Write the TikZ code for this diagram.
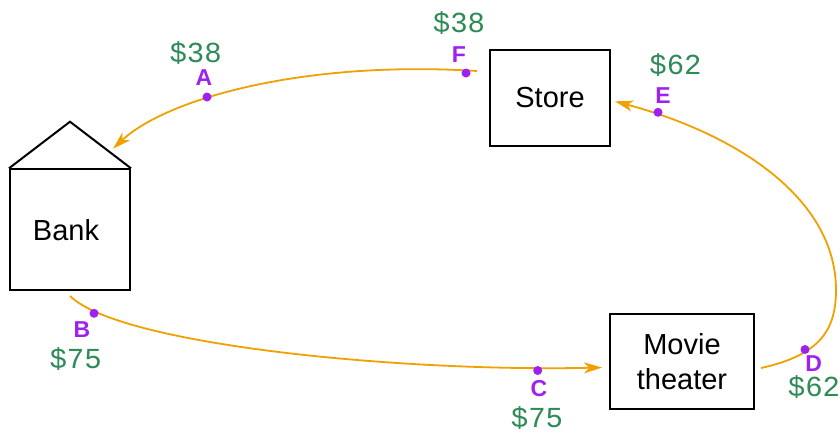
\documentclass[tikz,border=0pt]{standalone}
\usepackage{fontspec}
\setmainfont{Liberation Sans}
\newfontfamily\monofont{Liberation Mono}
\usetikzlibrary{arrows.meta,calc}
\definecolor{flowc}{RGB}{240,160,0}
\definecolor{dotc}{RGB}{160,32,240}
\definecolor{moneyc}{RGB}{46,139,87}
\begin{document}
\begin{tikzpicture}[x=1pt,y=-1pt,
  box/.style={draw,line width=2pt,inner sep=0pt,font=\fontsize{29}{35}\selectfont,align=center},
  flow/.style={draw=flowc,line width=1.8pt,-{Stealth[length=18pt,width=11pt,inset=5pt]}},
  dot/.style={circle,fill=dotc,inner sep=0pt,minimum size=9pt},
  tag/.style={text=dotc,font=\fontsize{23}{24}\selectfont\bfseries,inner sep=0pt,anchor=base},
  money/.style={text=moneyc,font=\monofont\fontsize{29}{30}\selectfont,inner sep=0pt,anchor=base}]
\useasboundingbox (0,0) rectangle (840,432);
% boxes
\node[box,minimum width=120pt,minimum height=120.7pt] (bank) at (70,229.65) {Bank\hspace*{8pt}};
\coordinate (roof) at (70,121.7);
\draw[line width=2pt,line join=miter] (bank.north west) -- (roof) -- (bank.north east);
\node[box,minimum width=120pt,minimum height=95.7pt] (store) at (550,97.85) {Store};
\node[box,minimum width=144pt,minimum height=95pt] (movie) at (682,361.5) {Movie\\theater};
% connector end points
\coordinate (b0) at ($(bank.south)+(0,5)$);
\coordinate (c1) at ($(movie.west)+(-7,6)$);
\coordinate (d0) at ($(movie.east)+(6,6.5)$);
\coordinate (e1) at ($(store.east)+(4,3.5)$);
\coordinate (f0) at ($(store.north west)+(-12,22)$);
\coordinate (a1) at ($(roof)+(43,27)$);
% flows
\draw[flow] (b0) .. controls (120,345) and (400,372) .. (c1);
\draw[flow] (d0) .. controls (820,355) and (836,330) .. (836,290)
                 .. controls (836,200) and (740,135) .. (e1);
\draw[flow] (f0) .. controls (300,60) and (165,100) .. (a1);
% dots and labels
\node[dot] (dA) at (207,97) {};
\node[tag] (lA) at (204,85) {A};
\node[money] (mA) at (195.7,62.7) {\$38};
\node[dot] (dF) at (466,73) {};
\node[tag] (lF) at (459,62) {F};
\node[money] (mF) at (459,32.5) {\$38};
\node[dot] (dE) at (658,112.3) {};
\node[tag] (lE) at (663,103.3) {E};
\node[money] (mE) at (675.5,74) {\$62};
\node[dot] (dD) at (805,349.5) {};
\node[tag] (lD) at (813.7,371.5) {D};
\node[money] (mD) at (814,396.5) {\$62};
\node[dot] (dC) at (537.7,370.5) {};
\node[tag] (lC) at (539,396) {C};
\node[money] (mC) at (537,427) {\$75};
\node[dot] (dB) at (94,313.3) {};
\node[tag] (lB) at (82,337) {B};
\node[money] (mB) at (75.7,368) {\$75};
\end{tikzpicture}
\end{document}
